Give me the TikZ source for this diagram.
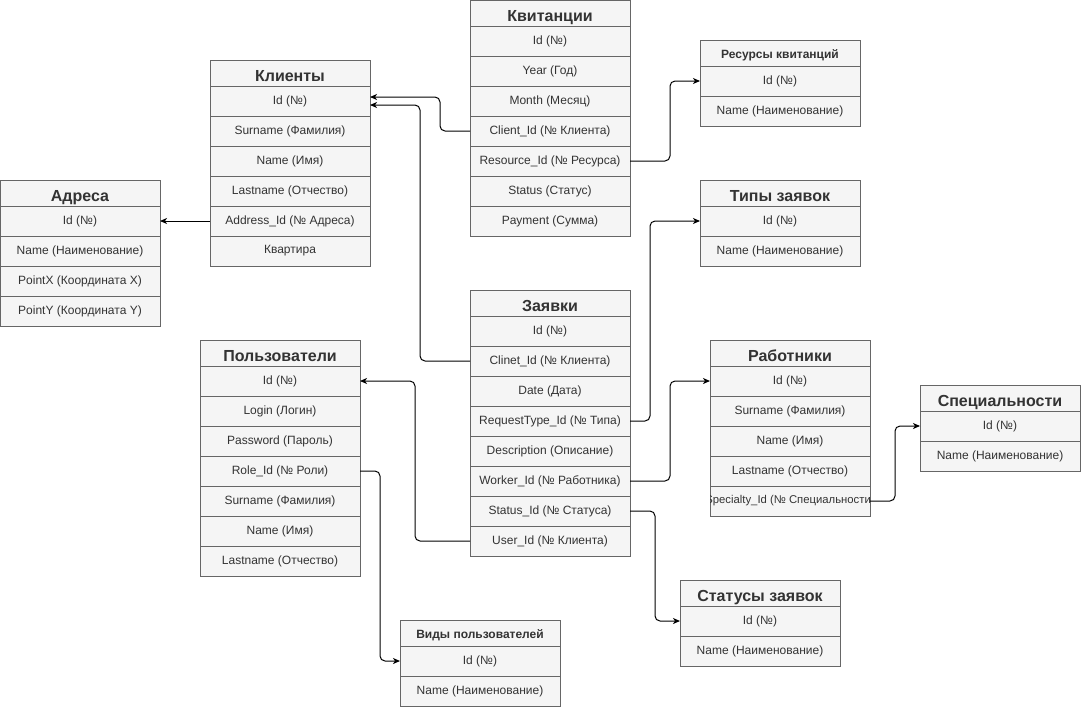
\documentclass[tikz,border=0pt]{standalone}
\usepackage{fontspec}
\setmainfont{Liberation Sans}
\usetikzlibrary{arrows.meta}

\definecolor{linec}{HTML}{666666}
\definecolor{cellfill}{HTML}{F5F5F5}
\definecolor{textc}{HTML}{333333}

\newcommand\rowfont{\fontsize{12}{14}\selectfont}
\newcommand\hdrfont{\fontsize{16}{18}\selectfont\bfseries}
\newcommand\hdrsmallfont{\fontsize{12}{14}\selectfont\bfseries}

\tikzset{
  cell/.style={draw=linec, fill=cellfill, line width=1pt, minimum width=160pt,
    minimum height=30pt, inner sep=0pt, outer sep=0pt, anchor=north west,
    font=\rowfont, text=textc},
  hdr/.style={cell, minimum height=26pt, font=\hdrfont,
    text height=18.5pt, text depth=1.4pt},
  hdrsmall/.style={cell, minimum height=26pt, font=\hdrsmallfont,
    text height=12pt, text depth=1pt},
  conn/.style={draw=black, line width=1pt, rounded corners=5pt,
    -{Stealth[length=7pt, width=6pt, inset=2pt]}}
}

\begin{document}
\begin{tikzpicture}[x=1pt, y=-1pt]
\useasboundingbox (0,0) rectangle (1081,710);

% Квитанции
\node[hdr]  (kv)        at (470,0)             {Квитанции};
\node[cell] (kv-id)     at (kv.south west)     {Id (№)};
\node[cell] (kv-year)   at (kv-id.south west)  {Year (Год)};
\node[cell] (kv-month)  at (kv-year.south west) {Month (Месяц)};
\node[cell] (kv-client) at (kv-month.south west) {Client\_Id (№ Клиента)};
\node[cell] (kv-res)    at (kv-client.south west) {Resource\_Id (№ Ресурса)};
\node[cell] (kv-status) at (kv-res.south west) {Status (Статус)};
\node[cell] (kv-pay)    at (kv-status.south west) {Payment (Сумма)};

% Клиенты
\node[hdr]  (kl)        at (210,60)            {Клиенты};
\node[cell] (kl-id)     at (kl.south west)     {Id (№)};
\node[cell] (kl-sur)    at (kl-id.south west)  {Surname (Фамилия)};
\node[cell] (kl-name)   at (kl-sur.south west) {Name (Имя)};
\node[cell] (kl-last)   at (kl-name.south west) {Lastname (Отчество)};
\node[cell] (kl-addr)   at (kl-last.south west) {Address\_Id (№ Адреса)};
\node[cell] (kl-flat)   at (kl-addr.south west) {Квартира};

% Адреса
\node[hdr]  (ad)        at (0,180)             {Адреса};
\node[cell] (ad-id)     at (ad.south west)     {Id (№)};
\node[cell] (ad-name)   at (ad-id.south west)  {Name (Наименование)};
\node[cell] (ad-px)     at (ad-name.south west) {PointX (Координата X)};
\node[cell] (ad-py)     at (ad-px.south west)  {PointY (Координата Y)};

% Ресурсы квитанций
\node[hdrsmall] (rs)    at (700,40)            {Ресурсы квитанций};
\node[cell] (rs-id)     at (rs.south west)     {Id (№)};
\node[cell] (rs-name)   at (rs-id.south west)  {Name (Наименование)};

% Типы заявок
\node[hdr]  (tp)        at (700,180)           {Типы заявок};
\node[cell] (tp-id)     at (tp.south west)     {Id (№)};
\node[cell] (tp-name)   at (tp-id.south west)  {Name (Наименование)};

% Заявки
\node[hdr]  (zv)        at (470,290)           {Заявки};
\node[cell] (zv-id)     at (zv.south west)     {Id (№)};
\node[cell] (zv-client) at (zv-id.south west)  {Clinet\_Id (№ Клиента)};
\node[cell] (zv-date)   at (zv-client.south west) {Date (Дата)};
\node[cell] (zv-type)   at (zv-date.south west) {RequestType\_Id (№ Типа)};
\node[cell] (zv-desc)   at (zv-type.south west) {Description (Описание)};
\node[cell] (zv-worker) at (zv-desc.south west) {Worker\_Id (№ Работника)};
\node[cell] (zv-status) at (zv-worker.south west) {Status\_Id (№ Статуса)};
\node[cell] (zv-user)   at (zv-status.south west) {User\_Id (№ Клиента)};

% Пользователи
\node[hdr]  (us)        at (200,340)           {Пользователи};
\node[cell] (us-id)     at (us.south west)     {Id (№)};
\node[cell] (us-login)  at (us-id.south west)  {Login (Логин)};
\node[cell] (us-pass)   at (us-login.south west) {Password (Пароль)};
\node[cell] (us-role)   at (us-pass.south west) {Role\_Id (№ Роли)};
\node[cell] (us-sur)    at (us-role.south west) {Surname (Фамилия)};
\node[cell] (us-name)   at (us-sur.south west) {Name (Имя)};
\node[cell] (us-last)   at (us-name.south west) {Lastname (Отчество)};

% Работники
\node[hdr]  (rb)        at (710,340)           {Работники};
\node[cell] (rb-id)     at (rb.south west)     {Id (№)};
\node[cell] (rb-sur)    at (rb-id.south west)  {Surname (Фамилия)};
\node[cell] (rb-name)   at (rb-sur.south west) {Name (Имя)};
\node[cell] (rb-last)   at (rb-name.south west) {Lastname (Отчество)};
\node[cell] (rb-spec)   at (rb-last.south west) {};
\begin{scope}
  \clip (rb-spec.south west) rectangle (rb-spec.north east);
  \node[font=\fontsize{11.3}{13}\selectfont, text=textc, inner sep=0pt]
    (rb-spec-text) at (rb-spec.center) {Specialty\_Id (№ Специальности)};
\end{scope}

% Специальности
\node[hdr]  (sp)        at (920,385)           {Специальности};
\node[cell] (sp-id)     at (sp.south west)     {Id (№)};
\node[cell] (sp-name)   at (sp-id.south west)  {Name (Наименование)};

% Виды пользователей
\node[hdrsmall] (vd)    at (400,620)           {Виды пользователей};
\node[cell] (vd-id)     at (vd.south west)     {Id (№)};
\node[cell] (vd-name)   at (vd-id.south west)  {Name (Наименование)};

% Статусы заявок
\node[hdr]  (st)        at (680,580)           {Статусы заявок};
\node[cell] (st-id)     at (st.south west)     {Id (№)};
\node[cell] (st-name)   at (st-id.south west)  {Name (Наименование)};

% foreign keys
\draw[conn] (kv-client.west) -- ++(-30,0) |- ([yshift=4pt]kl-id.east);
\draw[conn] (zv-client.west) -- ++(-50,0) |- ([yshift=-4pt]kl-id.east);
\draw[conn] (kl-addr.west) -- (ad-id.east);
\draw[conn] (kv-res.east) -- ++(40,0) |- (rs-id.west);
\draw[conn] (zv-type.east) -- ++(20,0) |- (tp-id.west);
\draw[conn] (zv-worker.east) -- ++(40,0) |- (rb-id.west);
\draw[conn] (rb-spec.east) -- ++(25,0) |- (sp-id.west);
\draw[conn] (zv-status.east) -- ++(25,0) |- (st-id.west);
\draw[conn] (zv-user.west) -- ++(-55,0) |- (us-id.east);
\draw[conn] (us-role.east) -- ++(20,0) |- (vd-id.west);
\end{tikzpicture}
\end{document}
